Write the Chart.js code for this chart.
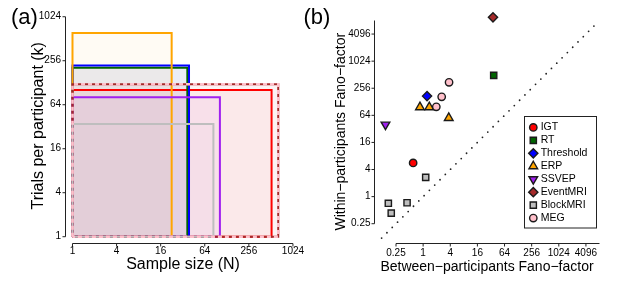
<!DOCTYPE html>
<html><head><meta charset="utf-8">
<script src="https://cdn.jsdelivr.net/npm/chart.js@4.4.1/dist/chart.umd.min.js"></script>
<style>
html,body{margin:0;padding:0;background:#fff;}
#wrap{position:relative;width:623px;height:288px;overflow:hidden;font-family:"Liberation Sans",Arial,Helvetica,sans-serif;}
canvas{position:absolute;top:0;}
#ca{left:0;} #cb{left:310px;}
.panel{position:absolute;font-size:22px;line-height:22px;color:#000;white-space:nowrap;}
</style></head><body>
<div id="wrap">
<canvas id="ca" width="310" height="288"></canvas>
<canvas id="cb" width="313" height="288"></canvas>
<div class="panel" style="left:11px;top:6px">(a)</div>
<div class="panel" style="left:303.5px;top:6px">(b)</div>
</div>
<script>
// ---------- data ----------
const categories = ['IGT', 'RT', 'Threshold', 'ERP', 'SSVEP', 'EventMRI', 'BlockMRI', 'MEG'];
// panel (a): sample size N and trials per participant k for each paradigm
const sampleSizeN = [523, 37, 39, 22.6, 103, 645, 84, 645];
const trialsPerParticipantK = [102, 205, 221, 613, 81, 122, 35, 122];
const ticksA = [1, 4, 16, 64, 256, 1024];
const tickLabelsA = ['1', '4', '16', '64', '256', '1024'];
// panel (b): between- and within-participants Fano factors
const igtBetween = [0.6], igtWithin = [5.6];
const rtBetween = [36.8], rtWithin = [495];
const thresholdBetween = [1.22], thresholdWithin = [171];
const erpBetween = [0.85, 1.37, 3.7], erpWithin = [97, 97, 56];
const ssvepBetween = [0.146], ssvepWithin = [39.7];
const eventMriBetween = [35.5], eventMriWithin = [9620];
const blockMriBetween = [1.14, 0.169, 0.44, 0.196], blockMriWithin = [2.68, 0.71, 0.73, 0.43];
const megBetween = [3.76, 2.58, 1.96], megWithin = [347, 165, 99];
const identityLine = [0.12, 6500];
const ticksB = [0.25, 1, 4, 16, 64, 256, 1024, 4096];
const tickLabelsB = ['0.25', '1', '4', '16', '64', '256', '1024', '4096'];

// ---------- styles ----------
const FONT = '"Liberation Sans", Arial, Helvetica, sans-serif';
const lineColors = ['#ff0000', '#006400', '#0000ff', '#ffa500', '#a020f0', '#a52a2a', '#bebebe', '#ffc0cb'];
const markerColors = ['#ff0000', '#006400', '#0000ff', '#ffa500', '#a020f0', '#a52a2a', '#bebebe', '#ffc0cb'];
const markerStyles = ['circle', 'rect', 'rectRot', 'triangle', 'triangle', 'rectRot', 'rect', 'circle'];
const markerRotation = [0, 0, 0, 0, 180, 0, 0, 0];
const markerRadius = [3.7, 4.4, 4.6, 5.0, 5.0, 4.6, 4.4, 3.7];
const fillAlpha = 0.045;

function rgba(hex, a) {
  const n = parseInt(hex.slice(1), 16);
  return `rgba(${(n >> 16) & 255},${(n >> 8) & 255},${n & 255},${a})`;
}
function fixY(w) { return s => { s.width = w; s.paddingTop = 0; s.paddingBottom = 0; s.paddingLeft = 0; s.paddingRight = 0; }; }
function fixX(h) { return s => { s.height = h; s.paddingTop = 0; s.paddingBottom = 0; s.paddingLeft = 0; s.paddingRight = 0; }; }

// R-style axes: line from first tick to end, outward ticks
function makeAxes(xEnd, yEnd) {
  return {
    id: 'rAxes',
    afterDatasetsDraw(chart) {
      const { ctx, scales: { x, y }, chartArea } = chart;
      const yb = Math.round(chartArea.bottom) + 0.5;
      const xl = Math.floor(chartArea.left) + 0.5;
      ctx.save();
      ctx.strokeStyle = '#222';
      ctx.lineWidth = 1;
      ctx.beginPath();
      const xt = x.ticks.map(t => x.getPixelForValue(t.value));
      ctx.moveTo(xt[0], yb);
      ctx.lineTo(x.getPixelForValue(xEnd), yb);
      xt.forEach(p => { ctx.moveTo(p, yb); ctx.lineTo(p, yb + 3); });
      const yt = y.ticks.map(t => y.getPixelForValue(t.value));
      ctx.moveTo(xl, yt[0]);
      ctx.lineTo(xl, y.getPixelForValue(yEnd));
      yt.forEach(p => { ctx.moveTo(xl, p); ctx.lineTo(xl - 3, p); });
      ctx.stroke();
      ctx.restore();
    }
  };
}

// ---------- panel (a) ----------
const dsA = [];
categories.forEach((c, i) => {
  // fill of the rectangle between k and 1
  dsA.push({
    label: c + ' fill',
    data: [{ x: 1, y: trialsPerParticipantK[i] }, { x: sampleSizeN[i], y: trialsPerParticipantK[i] }],
    showLine: true, borderWidth: 0, pointRadius: 0,
    backgroundColor: rgba(lineColors[i], fillAlpha),
    fill: { value: 1 }, order: 100 - i
  });
});
categories.forEach((c, i) => {
  const k = trialsPerParticipantK[i], n = sampleSizeN[i];
  dsA.push({
    label: c,
    data: [{ x: 1, y: 1 }, { x: 1, y: k }, { x: n, y: k }, { x: n, y: 1 }, { x: 1, y: 1 }],
    showLine: true, pointRadius: 0, fill: false,
    borderColor: lineColors[i],
    borderWidth: c === 'MEG' ? 2.6 : 2,
    borderDash: c === 'MEG' ? [4, 3] : [],
    borderJoinStyle: 'miter',
    order: 50 - i, clip: false
  });
});

new Chart(document.getElementById('ca'), {
  type: 'scatter',
  data: { datasets: dsA },
  options: {
    responsive: false, animation: false, events: [],
    layout: { padding: { left: 0, right: 8.9, top: 8.6, bottom: 0 } },
    plugins: { legend: { display: false }, tooltip: { enabled: false } },
    scales: {
      x: {
        type: 'logarithmic', min: Math.pow(2, -0.34), max: Math.pow(2, 10.37),
        grid: { display: false, drawTicks: false }, border: { display: false },
        afterBuildTicks: s => { s.ticks = ticksA.map(v => ({ value: v })); },
        afterFit: fixX(45),
        ticks: { autoSkip: false, maxRotation: 0, padding: 2.5, color: '#000', font: { family: FONT, size: 10 }, callback: (v, i) => tickLabelsA[i] },
        title: { display: true, text: 'Sample size (N)', color: '#000', font: { family: FONT, size: 16 }, padding: { top: 0, bottom: 14 } }
      },
      y: {
        type: 'logarithmic', min: Math.pow(2, -0.286), max: Math.pow(2, 10.37),
        grid: { display: false, drawTicks: false }, border: { display: false },
        afterBuildTicks: s => { s.ticks = ticksA.map(v => ({ value: v })); },
        afterFit: fixY(65),
        ticks: { autoSkip: false, padding: 4, color: '#000', font: { family: FONT, size: 10 }, callback: (v, i) => tickLabelsA[i] },
        title: { display: true, text: 'Trials per participant (k)', color: '#000', font: { family: FONT, size: 16 }, padding: { top: 28.9, bottom: 0 } }
      }
    }
  },
  plugins: [makeAxes(1024, 1024)]
});

// ---------- panel (b) ----------
const seriesB = [
  [igtBetween, igtWithin], [rtBetween, rtWithin], [thresholdBetween, thresholdWithin],
  [erpBetween, erpWithin], [ssvepBetween, ssvepWithin], [eventMriBetween, eventMriWithin],
  [blockMriBetween, blockMriWithin], [megBetween, megWithin]
];
const dsB = [{
  label: 'identity',
  data: identityLine.map(v => ({ x: v, y: v })),
  showLine: true, pointRadius: 0, borderColor: '#222', borderWidth: 1.8,
  borderDash: [0, 7.5], borderCapStyle: 'round', order: 100
}];
categories.forEach((c, i) => {
  const [bx, wy] = seriesB[i];
  dsB.push({
    label: c,
    data: bx.map((v, j) => ({ x: v, y: wy[j] })),
    pointStyle: markerStyles[i], rotation: markerRotation[i], pointRadius: markerRadius[i],
    backgroundColor: markerColors[i], borderColor: '#1a1a1a', borderWidth: 1.4,
    clip: false, order: 50 - i
  });
});

const legendB = {
  id: 'legendBox',
  afterDraw(chart) {
    const ctx = chart.ctx;
    ctx.save();
    ctx.strokeStyle = '#222';
    ctx.lineWidth = 1;
    ctx.strokeRect(214.5, 116.5, 72, 111.5);
    ctx.font = '10.5px ' + FONT;
    ctx.textBaseline = 'middle';
    ctx.textAlign = 'left';
    categories.forEach((c, i) => {
      const y = 127.4 + i * 12.95;
      ctx.fillStyle = markerColors[i];
      ctx.strokeStyle = '#1a1a1a';
      ctx.lineWidth = 1.4;
      Chart.helpers.drawPoint(ctx, { pointStyle: markerStyles[i], rotation: markerRotation[i], radius: markerRadius[i], borderWidth: 1.4 }, 223.3, y);
      ctx.fillStyle = '#000';
      ctx.fillText(c, 230.7, y);
    });
    ctx.restore();
  }
};

new Chart(document.getElementById('cb'), {
  type: 'scatter',
  data: { datasets: dsB },
  options: {
    responsive: false, animation: false, events: [],
    layout: { padding: { left: 0, right: 23.5, top: 20.5, bottom: 0 } },
    plugins: { legend: { display: false }, tooltip: { enabled: false } },
    scales: {
      x: {
        type: 'logarithmic', min: Math.pow(2, -3.585), max: Math.pow(2, 13),
        grid: { display: false, drawTicks: false }, border: { display: false },
        afterBuildTicks: s => { s.ticks = ticksB.map(v => ({ value: v })); },
        afterFit: fixX(45),
        ticks: { autoSkip: false, maxRotation: 0, padding: 4, color: '#000', font: { family: FONT, size: 10 }, callback: (v, i) => tickLabelsB[i] },
        title: { display: true, text: 'Between\u2212participants Fano\u2212factor', color: '#000', font: { family: FONT, size: 14 }, padding: { top: 0, bottom: 12.8 } }
      },
      y: {
        type: 'logarithmic', min: Math.pow(2, -3.424), max: Math.pow(2, 13),
        grid: { display: false, drawTicks: false }, border: { display: false },
        afterBuildTicks: s => { s.ticks = ticksB.map(v => ({ value: v })); },
        afterFit: fixY(64.5),
        ticks: { autoSkip: false, padding: 4, color: '#000', font: { family: FONT, size: 10 }, callback: (v, i) => tickLabelsB[i] },
        title: { display: true, text: 'Within\u2212participants Fano\u2212factor', color: '#000', font: { family: FONT, size: 14 }, padding: { top: 23.1, bottom: 0 } }
      }
    }
  },
  plugins: [makeAxes(Math.pow(2, 13), Math.pow(2, 13)), legendB]
});
</script>
</body></html>
